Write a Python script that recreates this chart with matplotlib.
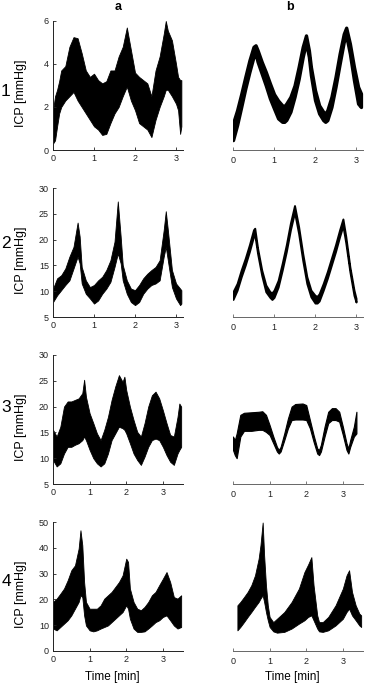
import matplotlib
matplotlib.use('Agg')
import matplotlib.pyplot as plt

plt.rcParams['font.family'] = ['Liberation Sans', 'DejaVu Sans']

# ---- column a: measured ICP, upper / lower envelope of the trace ----
t1a = [0, 0.05, 0.1, 0.15, 0.2, 0.3, 0.4, 0.5, 0.6, 0.7, 0.8, 0.9, 1.0, 1.1, 1.2, 1.3, 1.4, 1.5,
       1.6, 1.7, 1.8, 1.9, 2.0, 2.1, 2.2, 2.3, 2.4, 2.5, 2.6, 2.7, 2.75, 2.8, 2.9, 3.0, 3.05, 3.1, 3.13]
hi1a = [1.85, 2.5, 2.8, 3.2, 3.7, 3.9, 4.8, 5.25, 5.2, 4.5, 3.7, 3.4, 3.55, 3.25, 3.1, 3.2, 3.7, 3.7,
        4.35, 4.8, 5.7, 4.65, 3.6, 3.4, 3.25, 3.1, 2.5, 3.7, 4.35, 5.4, 6.0, 5.55, 5.1, 4.0, 3.4, 3.25, 3.25]
lo1a = [0.3, 0.45, 1.1, 1.7, 2.0, 2.3, 2.5, 2.7, 2.3, 2.0, 1.7, 1.4, 1.1, 0.95, 0.7, 0.75, 1.25, 1.7,
        2.0, 2.5, 2.95, 2.3, 1.85, 1.25, 1.1, 0.95, 0.6, 1.4, 2.0, 2.5, 2.8, 2.8, 2.5, 2.15, 1.85, 0.75, 1.1]

t2a = [0, 0.1, 0.2, 0.3, 0.4, 0.5, 0.6, 0.65, 0.7, 0.8, 0.9, 1.0, 1.1, 1.2, 1.3, 1.4, 1.5, 1.58,
       1.65, 1.7, 1.8, 1.9, 2.0, 2.1, 2.2, 2.3, 2.4, 2.5, 2.6, 2.7, 2.75, 2.8, 2.9, 3.0, 3.1, 3.13]
hi2a = [10.5, 12.5, 13.1, 14.4, 16.7, 18.6, 23.3, 20.6, 14.7, 12.1, 10.8, 11.2, 12.1, 12.8, 14.1, 16.0, 19.6, 27.4,
        20.6, 15.1, 12.1, 10.5, 10.2, 11.2, 12.5, 13.4, 14.1, 14.7, 16.0, 21.9, 25.5, 21.9, 14.1, 11.5, 10.5, 10.2]
lo2a = [7.9, 9.2, 10.2, 11.2, 12.1, 14.4, 16.7, 15.4, 11.5, 9.5, 8.6, 7.6, 8.2, 9.5, 10.5, 11.8, 14.7, 17.3,
        15.4, 12.1, 9.5, 7.9, 7.3, 7.9, 9.5, 10.5, 11.2, 11.5, 12.1, 16.7, 18.6, 16.0, 10.8, 8.6, 7.3, 7.6]

t3a = [0, 0.1, 0.2, 0.3, 0.4, 0.5, 0.6, 0.7, 0.8, 0.85, 0.9, 1.0, 1.1, 1.2, 1.3, 1.4, 1.5, 1.6, 1.7,
       1.8, 1.9, 1.95, 2.0, 2.1, 2.2, 2.3, 2.4, 2.5, 2.6, 2.7, 2.8, 2.9, 3.0, 3.1, 3.2, 3.3, 3.4, 3.45, 3.5]
hi3a = [15.5, 14.2, 16.1, 20.0, 21.0, 21.0, 21.3, 21.6, 22.6, 25.2, 21.9, 18.7, 16.8, 14.8, 13.5, 15.5, 18.0, 21.3, 23.9,
        26.1, 24.8, 25.8, 23.2, 20.0, 17.4, 15.1, 14.2, 16.8, 20.0, 22.2, 22.9, 21.6, 19.3, 16.8, 14.5, 14.2, 18.0, 20.6, 20.0]
lo3a = [9.65, 8.4, 9.0, 10.9, 12.2, 12.2, 12.6, 12.9, 13.5, 14.2, 13.5, 11.6, 10.0, 9.0, 8.4, 9.0, 10.9, 13.5, 14.8,
        16.1, 15.8, 15.5, 14.8, 12.9, 10.9, 9.65, 8.7, 10.3, 12.2, 13.5, 13.8, 13.5, 12.2, 10.6, 9.3, 8.7, 10.9, 11.6, 12.2]

t4a = [0, 0.1, 0.2, 0.3, 0.4, 0.5, 0.6, 0.7, 0.75, 0.8, 0.85, 0.9, 1.0, 1.1, 1.2, 1.3, 1.4, 1.5, 1.6,
       1.7, 1.8, 1.9, 2.0, 2.05, 2.1, 2.2, 2.3, 2.4, 2.5, 2.6, 2.7, 2.8, 2.9, 3.0, 3.1, 3.2, 3.3, 3.4, 3.5]
hi4a = [19.0, 20.3, 22.2, 24.2, 27.4, 31.3, 33.2, 39.7, 46.8, 41.0, 26.7, 19.0, 16.4, 16.4, 16.4, 17.7, 20.3, 21.6, 22.9,
        24.8, 26.7, 29.3, 35.8, 34.5, 24.2, 19.0, 16.4, 15.8, 17.1, 19.0, 21.6, 22.9, 25.5, 28.0, 30.6, 26.7, 20.9, 20.3, 21.6]
lo4a = [8.7, 8.0, 9.3, 10.6, 11.9, 13.8, 16.4, 19.0, 21.6, 20.9, 13.8, 9.9, 8.0, 7.6, 8.0, 8.7, 9.3, 9.9, 11.2,
        12.5, 13.8, 15.1, 17.7, 16.4, 12.5, 8.7, 7.4, 7.4, 7.6, 8.7, 9.9, 11.2, 11.9, 13.2, 13.8, 11.9, 9.9, 8.7, 9.3]

# ---- column b: model output band ----
t1b = [0, 0.1, 0.2, 0.3, 0.4, 0.5, 0.55, 0.6, 0.7, 0.8, 0.9, 1.0, 1.1, 1.2, 1.25, 1.3, 1.4, 1.5, 1.6, 1.7,
       1.78, 1.85, 1.9, 2.0, 2.1, 2.2, 2.25, 2.3, 2.4, 2.5, 2.6, 2.7, 2.76, 2.85, 2.95, 3.05, 3.12]
hi1b = [1.24, 1.85, 2.6, 3.4, 4.17, 4.8, 4.87, 4.64, 4.1, 3.63, 3.1, 2.6, 2.3, 2.08, 2.04, 2.16, 2.47, 3.0, 3.86, 4.8,
        5.33, 4.64, 3.86, 2.78, 2.08, 1.78, 1.7, 1.85, 2.47, 3.4, 4.48, 5.4, 5.69, 4.95, 3.86, 2.94, 2.63]
lo1b = [0.46, 1.16, 2.0, 2.86, 3.63, 4.33, 4.48, 4.1, 3.55, 3.0, 2.4, 1.93, 1.47, 1.31, 1.31, 1.4, 1.78, 2.47, 3.3, 4.33,
        5.0, 4.33, 3.48, 2.32, 1.7, 1.39, 1.31, 1.39, 2.0, 2.94, 4.0, 5.02, 5.33, 4.48, 3.24, 2.16, 2.0]

t2b = [0, 0.1, 0.2, 0.3, 0.4, 0.5, 0.53, 0.6, 0.7, 0.8, 0.9, 0.95, 1.0, 1.1, 1.2, 1.3, 1.4, 1.5, 1.6, 1.7,
       1.8, 1.9, 2.0, 2.05, 2.1, 2.2, 2.3, 2.4, 2.5, 2.6, 2.68, 2.75, 2.85, 2.95, 3.0]
hi2b = [9.9, 11.5, 14.1, 16.4, 19.0, 21.9, 22.2, 18.3, 14.1, 11.2, 9.9, 9.7, 10.2, 12.1, 15.4, 19.0, 23.2, 26.6, 22.5, 17.3,
        12.8, 10.2, 9.2, 9.0, 9.5, 11.5, 13.8, 16.4, 19.0, 21.9, 24.0, 20.6, 14.7, 10.2, 8.6]
lo2b = [8.4, 10.2, 12.8, 15.1, 17.7, 20.6, 21.0, 17.3, 13.1, 9.9, 8.8, 8.4, 8.8, 10.8, 14.1, 17.7, 21.9, 25.3, 21.2, 16.0,
        11.5, 8.9, 7.7, 7.7, 8.1, 10.2, 12.5, 15.1, 17.7, 20.6, 22.7, 19.4, 13.8, 9.2, 7.9]

t3b = [0, 0.05, 0.1, 0.2, 0.3, 0.5, 0.7, 0.8, 0.9, 1.0, 1.1, 1.2, 1.25, 1.3, 1.4, 1.5, 1.6, 1.7, 1.9, 2.0,
       2.1, 2.2, 2.3, 2.35, 2.4, 2.5, 2.6, 2.7, 2.8, 2.9, 3.0, 3.1, 3.15, 3.2, 3.3, 3.37]
hi3b = [14.2, 13.5, 14.8, 18.4, 18.8, 18.9, 19.0, 19.1, 18.4, 16.4, 14.2, 12.2, 11.6, 12.2, 14.8, 17.7, 20.0, 20.5, 20.6, 20.3,
        17.4, 14.5, 11.9, 11.6, 12.6, 16.1, 19.0, 19.7, 19.7, 19.0, 16.1, 12.9, 11.9, 13.5, 16.1, 19.0]
lo3b = [11.6, 10.6, 10.0, 14.2, 15.3, 15.3, 15.5, 15.5, 15.1, 14.5, 12.9, 11.3, 10.9, 11.3, 13.5, 15.8, 17.4, 17.5, 17.5, 17.4,
        15.8, 13.2, 10.9, 10.6, 11.3, 14.2, 16.8, 17.4, 17.4, 17.1, 14.5, 11.6, 10.9, 12.2, 14.2, 14.8]

t4b = [0.12, 0.2, 0.3, 0.4, 0.5, 0.6, 0.7, 0.75, 0.81, 0.85, 0.9, 0.95, 1.0, 1.1, 1.2, 1.4, 1.6, 1.8, 1.95, 2.05,
       2.14, 2.2, 2.3, 2.35, 2.45, 2.6, 2.8, 3.0, 3.1, 3.17, 3.25, 3.35, 3.45, 3.5]
hi4b = [17.7, 19.0, 20.9, 22.9, 25.5, 29.3, 35.8, 41.0, 49.8, 37.1, 25.5, 17.7, 13.2, 11.2, 12.5, 15.1, 19.0, 24.2, 30.6, 33.5,
        36.4, 25.5, 13.8, 11.2, 11.2, 13.2, 17.7, 24.2, 29.3, 31.3, 22.9, 17.7, 14.5, 13.8]
lo4b = [8.0, 9.3, 11.2, 13.2, 15.1, 17.1, 19.0, 20.3, 21.6, 19.0, 15.1, 11.9, 9.3, 7.6, 7.1, 7.4, 8.7, 10.6, 11.9, 13.2,
        13.8, 11.9, 8.7, 7.6, 7.4, 8.0, 9.9, 12.5, 15.1, 16.4, 13.8, 11.9, 9.9, 9.3]

rows = [
    (t1a, hi1a, lo1a, t1b, hi1b, lo1b, (0, 6), [0, 2, 4, 6], 3.17),
    (t2a, hi2a, lo2a, t2b, hi2b, lo2b, (5, 30), [5, 10, 15, 20, 25, 30], 3.17),
    (t3a, hi3a, lo3a, t3b, hi3b, lo3b, (5, 30), [5, 10, 15, 20, 25, 30], 3.55),
    (t4a, hi4a, lo4a, t4b, hi4b, lo4b, (0, 50), [0, 10, 20, 30, 40, 50], 3.55),
]
row_labels = ['1', '2', '3', '4']
row_label_y = [91, 244, 408, 582]
# outline width of the model band, per row (band looks thick in the source)
band_lw = [2.4, 1.4, 0.8, 0.6]

W, H = 366, 685
fig = plt.figure(figsize=(W / 100, H / 100), dpi=100)

bottoms_px = [150, 317, 484, 651]
for i, (ta, ha, la, tb, hb, lb, ylim, yticks, xmax) in enumerate(rows):
    b = 1 - bottoms_px[i] / H
    h = 129 / H
    # left column (measured)
    ax = fig.add_axes([53 / W, b, 130 / W, h])
    ax.fill_between(ta, la, ha, color='black', lw=0.6, edgecolor='black')
    ax.set_xlim(0, xmax)
    ax.set_ylim(*ylim)
    ax.set_yticks(yticks)
    ax.set_xticks([0, 1, 2, 3])
    for s in ['top', 'right']:
        ax.spines[s].set_visible(False)
    for s in ['left', 'bottom']:
        ax.spines[s].set_linewidth(0.7)
        ax.spines[s].set_color('#222222')
    ax.tick_params(direction='in', length=2.5, width=0.6, labelsize=6.5, pad=3, colors='#222222')
    ax.set_ylabel('ICP [mmHg]', fontsize=9)
    ax.yaxis.set_label_coords(-0.2, 0.44)

    # right column (model)
    bx = fig.add_axes([233 / W, b, 130 / W, h])
    bx.fill_between(tb, lb, hb, color='black', lw=band_lw[i], edgecolor='black', joinstyle='round')
    bx.set_xlim(0, xmax)
    bx.set_ylim(*ylim)
    bx.set_xticks([0, 1, 2, 3])
    bx.set_yticks([])
    for s in ['top', 'right', 'left']:
        bx.spines[s].set_visible(False)
    bx.spines['bottom'].set_linewidth(0.7)
    bx.spines['bottom'].set_color('#666666')
    bx.tick_params(axis='x', direction='in', length=2.5, width=0.6, labelsize=6.5, pad=4,
                   colors='#666666', labelcolor='#222222')

    fig.text(6 / W, 1 - row_label_y[i] / H, row_labels[i], fontsize=12.5, ha='center', va='center')

    if i == 3:
        ax.set_xlabel('Time [min]', fontsize=8.5)
        bx.set_xlabel('Time [min]', fontsize=8.5)
        ax.xaxis.set_label_coords(0.46, -0.155)
        bx.xaxis.set_label_coords(0.46, -0.155)

fig.text(118 / W, 1 - 7 / H, 'a', fontsize=9, fontweight='bold', ha='center', va='center')
fig.text(290 / W, 1 - 7 / H, 'b', fontsize=9, fontweight='bold', ha='center', va='center')

fig.savefig('out.png', dpi=100)
